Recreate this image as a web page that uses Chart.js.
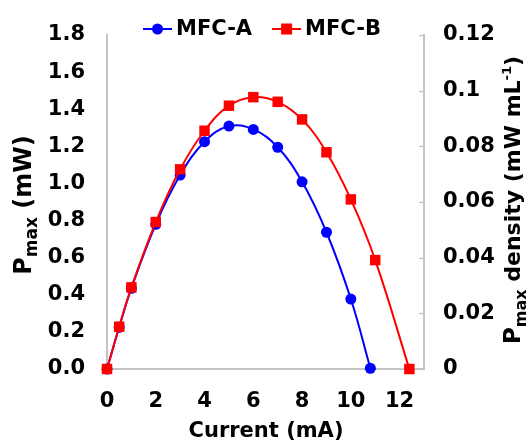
<!DOCTYPE html>
<html><head><meta charset="utf-8">
<script src="https://cdn.jsdelivr.net/npm/chart.js@4.4.0/dist/chart.umd.min.js"></script>
<style>html,body{margin:0;padding:0;background:#fff;overflow:hidden}#wrap{width:531px;height:442px;position:relative}</style>
</head><body><div id="wrap"><canvas id="c"></canvas></div>
<script>
const seriesNames = ['MFC-A', 'MFC-B'];
const currentA = [0, 0.5, 1, 2, 3, 4, 5, 6, 7, 8, 9, 10, 10.8];
const powerA   = [0, 0.225, 0.435, 0.78, 1.045, 1.225, 1.309, 1.291, 1.195, 1.009, 0.737, 0.377, 0.004];
const currentB = [0, 0.5, 1, 2, 3, 4, 5, 6, 7, 8, 9, 10, 11, 12.4];
const powerB   = [0, 0.228, 0.44, 0.792, 1.076, 1.284, 1.419, 1.465, 1.44, 1.345, 1.168, 0.914, 0.587, 0];
const xTickLabels = ['0', '2', '4', '6', '8', '10', '12'];
const leftTickLabels = ['0.0', '0.2', '0.4', '0.6', '0.8', '1.0', '1.2', '1.4', '1.6', '1.8'];
const rightTickLabels = ['0', '0.02', '0.04', '0.06', '0.08', '0.1', '0.12'];

const FONT = 'DejaVu Sans';
const AXIS_COLOR = '#c4c4c4';

function pts(xs, ys) { return xs.map((x, i) => ({x: x, y: ys[i]})); }

function richText(ctx, segs, cx, baseY) {
  let total = 0;
  segs.forEach(s => { ctx.font = 'bold ' + s.size + 'px "' + FONT + '"'; s.w = ctx.measureText(s.t).width; total += s.w; });
  let x = cx - total / 2;
  ctx.textAlign = 'left';
  ctx.textBaseline = 'alphabetic';
  segs.forEach(s => { ctx.font = 'bold ' + s.size + 'px "' + FONT + '"'; ctx.fillText(s.t, x, baseY + (s.dy || 0)); x += s.w; });
}

const decor = {
  id: 'decor',
  afterDraw(chart) {
    const ctx = chart.ctx, ca = chart.chartArea;
    ctx.save();
    ctx.fillStyle = '#000';
    // right axis inward tick marks
    const yr = chart.scales.y2;
    ctx.strokeStyle = AXIS_COLOR; ctx.lineWidth = 1.5;
    yr.ticks.forEach(t => {
      const py = Math.round(yr.getPixelForValue(t.value)) + 0.5;
      ctx.beginPath(); ctx.moveTo(ca.right - 5, py); ctx.lineTo(ca.right, py); ctx.stroke();
    });
    // x title
    richText(ctx, [{t: 'Current (mA)', size: 21}], 266, 437);
    // left title
    ctx.save();
    ctx.translate(22, 205); ctx.rotate(-Math.PI / 2);
    richText(ctx, [{t: 'P', size: 24}, {t: 'max', size: 17, dy: 6}, {t: ' (mW)', size: 24}], 0, 8.5);
    ctx.restore();
    // right title
    ctx.save();
    ctx.translate(512, 200); ctx.rotate(-Math.PI / 2);
    richText(ctx, [{t: 'P', size: 23}, {t: 'max', size: 16, dy: 6}, {t: ' density (mW mL', size: 22}, {t: '-1', size: 13, dy: -9}, {t: ')', size: 22}], 0, 8);
    ctx.restore();
    // legend
    const ds = chart.data.datasets;
    ctx.font = 'bold 21px "' + FONT + '"';
    const lineLen = 29, gapText = 4, gapItem = 20;
    let total = 0;
    const widths = seriesNames.map(n => ctx.measureText(n).width);
    widths.forEach((w, i) => { total += lineLen + gapText + w + (i ? gapItem : 0); });
    let x = 262 - total / 2;
    const ly = 29;
    ds.forEach((d, i) => {
      ctx.strokeStyle = d.borderColor; ctx.lineWidth = 2;
      ctx.beginPath(); ctx.moveTo(x, ly); ctx.lineTo(x + lineLen, ly); ctx.stroke();
      ctx.fillStyle = d.backgroundColor;
      const cx = x + lineLen / 2;
      if (d.pointStyle === 'rect') { ctx.fillRect(cx - 5.5, ly - 5.5, 11, 11); }
      else { ctx.beginPath(); ctx.arc(cx, ly, 5.5, 0, Math.PI * 2); ctx.fill(); }
      ctx.fillStyle = '#000';
      ctx.font = 'bold 21px "' + FONT + '"';
      ctx.textAlign = 'left'; ctx.textBaseline = 'middle';
      ctx.fillText(d.label, x + lineLen + gapText, ly + 1);
      x += lineLen + gapText + widths[i] + gapItem;
    });
    ctx.restore();
  }
};

const tickFont = {family: FONT, size: 21, weight: 'bold'};

new Chart(document.getElementById('c'), {
  type: 'scatter',
  data: {
    datasets: [
      {label: seriesNames[0], data: pts(currentA, powerA), showLine: true, tension: 0.4,
       borderColor: '#0000ff', backgroundColor: '#0000ff', borderWidth: 2,
       pointStyle: 'circle', pointRadius: 5.5, pointBorderWidth: 0, pointHoverRadius: 5.5,
       yAxisID: 'y', order: 1, clip: false},
      {label: seriesNames[1], data: pts(currentB, powerB), showLine: true, tension: 0.4,
       borderColor: '#ff0000', backgroundColor: '#ff0000', borderWidth: 2,
       pointStyle: 'rect', pointRadius: 7.4, pointBorderWidth: 0, pointHoverRadius: 7.4,
       yAxisID: 'y', order: 0, clip: false}
    ]
  },
  options: {
    responsive: true, maintainAspectRatio: false, animation: false,
    layout: {padding: {top: 35, left: 0, right: 0, bottom: 0}},
    plugins: {legend: {display: false}, tooltip: {enabled: false}},
    scales: {
      x: {type: 'linear', min: 0, max: 13,
          grid: {display: false, drawTicks: false},
          border: {display: true, color: AXIS_COLOR, width: 2},
          ticks: {stepSize: 2, includeBounds: false, padding: 20, color: '#000', font: tickFont, maxRotation: 0,
                  callback: (v, i) => xTickLabels[i]},
          afterFit: s => { s.height = 73; }},
      y: {type: 'linear', position: 'left', min: 0, max: 1.8,
          grid: {display: false, drawTicks: false},
          border: {display: true, color: AXIS_COLOR, width: 2},
          ticks: {stepSize: 0.2, padding: 22, color: '#000', font: tickFont,
                  callback: (v, i) => leftTickLabels[i]},
          afterFit: s => { s.width = 107; }},
      y2: {type: 'linear', position: 'right', min: 0, max: 0.12,
          grid: {display: false, drawTicks: false},
          border: {display: true, color: AXIS_COLOR, width: 2},
          ticks: {stepSize: 0.02, padding: 19, color: '#000', font: tickFont,
                  callback: (v, i) => rightTickLabels[i]},
          afterFit: s => { s.width = 107; }}
    }
  },
  plugins: [decor]
});
</script></body></html>
